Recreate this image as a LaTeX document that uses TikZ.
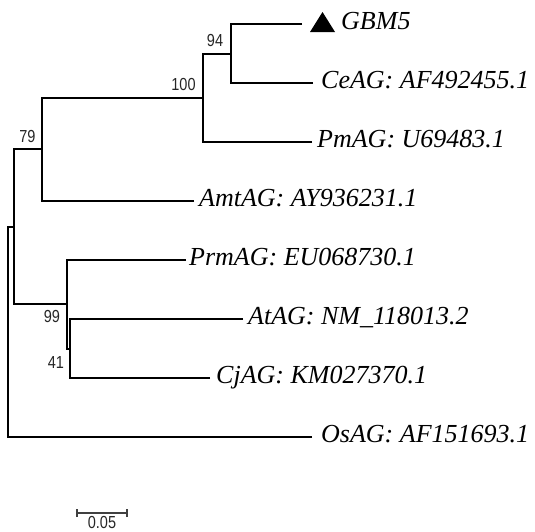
\documentclass[tikz,border=0pt]{standalone}
\usepackage{fontspec}
\setmainfont{Liberation Serif}
\newfontfamily\numfont{Liberation Sans}
\begin{document}
\begin{tikzpicture}[x=1pt,y=-1pt,
  branch/.style={line width=2pt},
  leaf/.style={font=\fontsize{26}{30}\selectfont\itshape, anchor=base west, inner sep=0pt},
  bs/.style={font=\numfont\fontsize{14.5}{14.5}\selectfont, inner sep=0pt, text=black!85},
  scalebar/.style={line width=1.2pt, draw=black!75}]
\useasboundingbox (0,0) rectangle (535,531);
% leaf ends
\coordinate (lGBM) at (302,24);
\coordinate (lCe) at (313,83);
\coordinate (lPm) at (312,142);
\coordinate (lAmt) at (194,201);
\coordinate (lPrm) at (186,260);
\coordinate (lAt) at (243,319);
\coordinate (lCj) at (210,378);
\coordinate (lOs) at (312,437);
% internal nodes
\coordinate (n94) at (231,53.5);
\coordinate (n100) at (203,97.75);
\coordinate (n79) at (42,149.4);
\coordinate (n41) at (70,348.5);
\coordinate (n99) at (67,304.25);
\coordinate (nA) at (14,226.8);
\coordinate (root) at (8,331.9);
% branches
\draw[branch] (lGBM) -| (n94) (lCe) -| (n94);
\draw[branch] (n94) -| (n100) (lPm) -| (n100);
\draw[branch] (n100) -| (n79) (lAmt) -| (n79);
\draw[branch] (lAt) -| (n41) (lCj) -| (n41);
\draw[branch] (lPrm) -| (n99) (n41) -| (n99);
\draw[branch] (n79) -| (nA) (n99) -| (nA);
\draw[branch] (nA) -| (root) (lOs) -| (root);
% marker
\fill (310,32) -- (322.5,12) -- (335,32) -- cycle;
% leaf labels
\node[leaf] (tGBM) at (341,29.5) {GBM5};
\node[leaf] (tCe) at (321,88.5) {CeAG: AF492455.1};
\node[leaf] (tPm) at (317,147.5) {PmAG: U69483.1};
\node[leaf] (tAmt) at (199,206.5) {AmtAG: AY936231.1};
\node[leaf] (tPrm) at (189,265.5) {PrmAG: EU068730.1};
\node[leaf] (tAt) at (248,324.5) {AtAG: NM\_118013.2};
\node[leaf] (tCj) at (216,383.5) {CjAG: KM027370.1};
\node[leaf] (tOs) at (321,442.5) {OsAG: AF151693.1};
% bootstrap values
\node[bs] (b94) at (215,40.5) {\scalebox{1}[1.2]{94}};
\node[bs] (b100) at (183.5,85) {\scalebox{1}[1.2]{100}};
\node[bs] (b79) at (27.5,136.5) {\scalebox{1}[1.2]{79}};
\node[bs] (b99) at (52,317) {\scalebox{1}[1.2]{99}};
\node[bs] (b41) at (56,362.5) {\scalebox{1}[1.2]{41}};
% scale bar
\coordinate (sbL) at (77,513);
\coordinate (sbR) at (127,513);
\draw[scalebar] (sbL) -- (sbR);
\draw[scalebar] ([yshift=-4pt]sbL) -- ([yshift=4pt]sbL);
\draw[scalebar] ([yshift=-4pt]sbR) -- ([yshift=4pt]sbR);
\node[bs] (sbT) at (102,522) {\scalebox{1}[1.2]{0.05}};
\end{tikzpicture}
\end{document}
